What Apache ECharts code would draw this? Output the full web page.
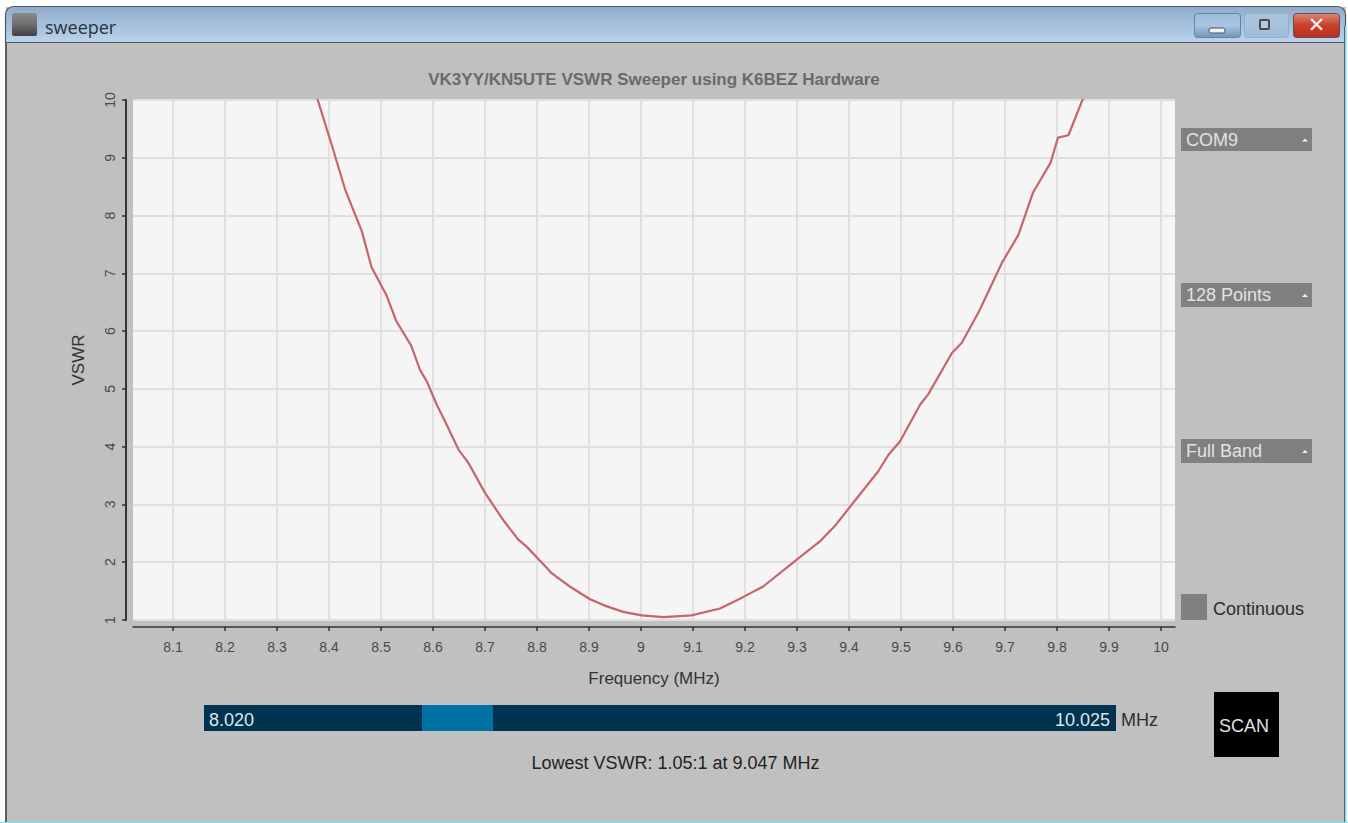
<!DOCTYPE html>
<html>
<head>
<meta charset="utf-8">
<style>html,body{margin:0;padding:0;background:#fff}#c{width:1348px;height:823px}</style>
<script src="https://cdn.jsdelivr.net/npm/echarts@6/dist/echarts.min.js"></script>
</head>
<body>
<div id="c"></div>
<script>
const chartTitle = 'VK3YY/KN5UTE VSWR Sweeper using K6BEZ Hardware';
const windowTitle = 'sweeper';
const xAxisName = 'Frequency (MHz)';
const yAxisName = 'VSWR';
const xTicks = [8.1,8.2,8.3,8.4,8.5,8.6,8.7,8.8,8.9,9,9.1,9.2,9.3,9.4,9.5,9.6,9.7,9.8,9.9,10];
const frequency = [8.363,8.379,8.405,8.431,8.463,8.482,8.510,8.529,8.558,8.575,8.588,8.607,8.623,8.649,8.668,8.700,8.735,8.764,8.780,8.819,8.828,8.863,8.902,8.933,8.966,9.001,9.043,9.097,9.152,9.197,9.235,9.299,9.344,9.375,9.402,9.456,9.476,9.498,9.537,9.552,9.598,9.617,9.650,9.694,9.700,9.726,9.754,9.788,9.802,9.822,9.849,9.867];
const vswr = [10.39,9.98,9.23,8.45,7.73,7.10,6.63,6.18,5.75,5.33,5.13,4.73,4.44,3.95,3.72,3.20,2.73,2.39,2.27,1.90,1.81,1.58,1.36,1.24,1.14,1.08,1.05,1.08,1.20,1.40,1.58,2.04,2.36,2.65,2.96,3.57,3.86,4.09,4.73,4.90,5.62,5.80,6.34,7.18,7.27,7.67,8.40,8.92,9.35,9.39,10.0,10.39];
const dropdowns = ['COM9','128 Points','Full Band'];
const rangeStart = '8.020', rangeEnd = '10.025', rangeUnit = 'MHz';
const checkboxLabel = 'Continuous', scanLabel = 'SCAN';
const lowestText = 'Lowest VSWR: 1.05:1 at 9.047 MHz';

const FONT = '"Liberation Sans", Arial, sans-serif';
const rect = (x,y,w,h,fill,extra={}) => ({type:'rect',silent:true,shape:{x,y,width:w,height:h,r:extra.r||0},style:{fill,stroke:extra.stroke,lineWidth:extra.lw||0},z:extra.z||1});
const txt = (x,y,text,size,fill,extra={}) => ({type:'text',silent:true,x,y,z:extra.z||3,style:{text,fill,fontSize:size,fontFamily:extra.font||FONT,fontWeight:extra.weight||'normal',align:extra.align||'left',verticalAlign:'middle'}});
const grad = (stops) => ({type:'linear',x:0,y:0,x2:0,y2:1,colorStops:stops.map((c,i)=>({offset:i/(stops.length-1),color:c}))});

const els = [];
// outside of the window
els.push(rect(0,0,1348,7,'#ffffff'), rect(0,0,6,823,'#ffffff'), rect(1346,0,2,823,'#ffffff'));
// frame + title bar
els.push(rect(5.5,6.5,1340,36,grad(['#8eabc9','#a5c0dc','#bcd3ea']),{r:[8,8,0,0],stroke:'#50565e',lw:1.2}));
els.push(rect(5,42,2,781,'#5a6068'), rect(1344,26,1.2,797,'#3f6f80'), rect(1345,26,1.5,797,'#8fd3e4'));
els.push(rect(0,822,1348,1,'#8fd8ea'));
// window icon + title
els.push(rect(12,13,25,23,grad(['#8a8a8a','#6e6e6e','#3f3f3f']),{r:2}));
els.push(txt(45,27,windowTitle,18,'#27333f',{font:'"Open Sans", sans-serif'}));
// window buttons
els.push(rect(1194.5,13.5,46,24,grad(['#9dbbd8','#a9c5e0','#6f96bb']),{r:3,stroke:'#5f86ab',lw:1}));
els.push(rect(1209,28,16,5,'#f2f2f2',{r:2,stroke:'#44566a',lw:1}));
els.push(rect(1244.5,13.5,44,24,grad(['#a9c3dc','#a9c3dc','#9dbad6']),{r:3,stroke:'#8fb0cf',lw:1}));
els.push(rect(1260,20,9,9,'#b9cbdc',{r:1,stroke:'#444c55',lw:2}));
els.push(rect(1293.5,13.5,46,24,grad(['#d98a78','#c8402a','#b8301e']),{r:3,stroke:'#6a4a50',lw:1}));
els.push(txt(1316.5,25,'✕',21,'#f4f0ee',{align:'center',weight:'bold',font:'"DejaVu Sans", sans-serif'}));
// dropdowns
[[128,23],[283,24],[439,24]].forEach(([y,h],i)=>{
  els.push(rect(1181,y,131,h,'#808080'));
  els.push(txt(1186,y+h/2,dropdowns[i],18,'#e2e2e2'));
  els.push({type:'polygon',silent:true,z:3,shape:{points:[[1302,y+h/2+2],[1308,y+h/2+2],[1305,y+h/2-1]]},style:{fill:'#f0f0f0'}});
});
// checkbox
els.push(rect(1181,594,26,26,'#808080'));
els.push(txt(1213,609,checkboxLabel,18,'#2e2e2e'));
// range slider
els.push(rect(204,705,912,26,'#00334f'));
els.push(rect(422,705,71,26,'#0070a5'));
els.push(txt(209,720,rangeStart,18,'#dfe6ea'));
els.push(txt(1110,720,rangeEnd,18,'#dfe6ea',{align:'right'}));
els.push(txt(1121,720,rangeUnit,18,'#2e2e2e'));
// scan
els.push(rect(1214,692,65,65,'#000000'));
els.push(txt(1244,726,scanLabel,18,'#e0e0e0',{align:'center'}));
// lowest text
els.push(txt(675.5,763,lowestText,18,'#222222',{align:'center'}));
// chart title
els.push(txt(654,79,chartTitle,17,'#6a6a6a',{align:'center',weight:'bold'}));

const chart = echarts.init(document.getElementById('c'),null,{renderer:'svg',width:1348,height:823});
chart.setOption({
  animation:false,
  backgroundColor:'#c0c0c0',
  grid:{left:133,right:173,top:100,bottom:203,show:true,backgroundColor:'#f5f5f5',borderWidth:0,containLabel:false},
  xAxis:{
    type:'value',min:8.023,max:10.027,offset:7,
    name:xAxisName,nameLocation:'middle',nameGap:43,
    nameTextStyle:{fontSize:17,color:'#333',fontFamily:FONT},
    axisLine:{show:true,lineStyle:{color:'#333',width:1.5}},
    axisTick:{show:true,length:4,inside:false,lineStyle:{color:'#333',width:1.5},customValues:xTicks},
    axisLabel:{show:true,customValues:xTicks,showMinLabel:true,showMaxLabel:true,margin:13,fontSize:14,color:'#4a4a4a',fontFamily:FONT,formatter:v=>String(v)},
    splitLine:{show:true,lineStyle:{color:'#e0e0e0',width:2}}
  },
  yAxis:{
    type:'value',min:1,max:10,interval:1,offset:7,
    name:yAxisName,nameLocation:'middle',nameGap:39,nameRotate:90,
    nameTextStyle:{fontSize:17,color:'#333',fontFamily:FONT},
    axisLine:{show:true,lineStyle:{color:'#333',width:2}},
    axisTick:{show:true,length:4,lineStyle:{color:'#333',width:1.5}},
    axisLabel:{show:true,rotate:90,margin:9,fontSize:14,color:'#4a4a4a',fontFamily:FONT},
    splitLine:{show:true,lineStyle:{color:'#e0e0e0',width:2}}
  },
  series:[{type:'line',data:frequency.map((f,i)=>[f,vswr[i]]),showSymbol:false,smooth:false,clip:true,lineStyle:{color:'#c8646c',width:2.2},z:5}],
  graphic:{elements:els}
});
</script>
</body>
</html>
